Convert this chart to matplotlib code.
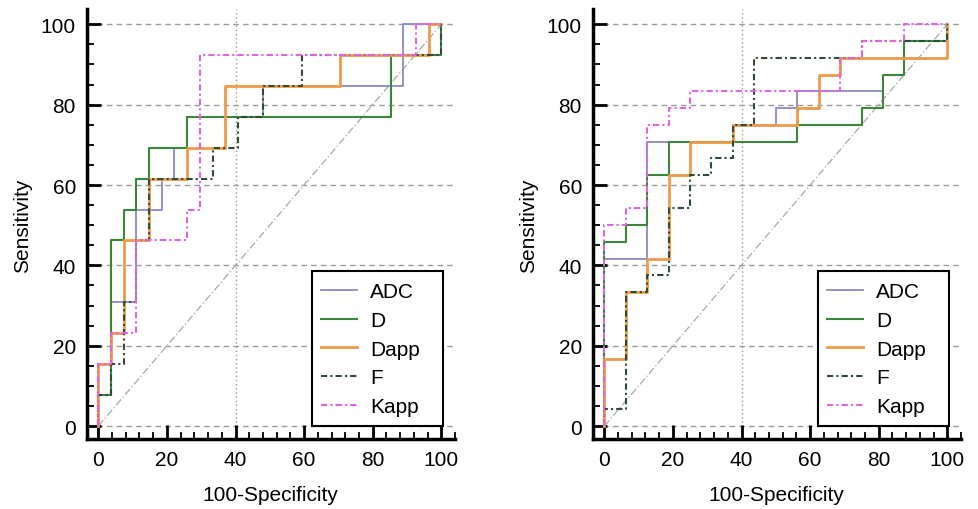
import matplotlib
matplotlib.use("Agg")
import matplotlib.pyplot as plt
from matplotlib.ticker import MultipleLocator
from matplotlib.patches import Rectangle

plt.rcParams['font.family'] = ['Liberation Sans', 'DejaVu Sans']

series_names = ["ADC", "D", "Dapp", "F", "Kapp"]

# Left panel ROC points (100-Specificity, Sensitivity)
adc_l_x = [0, 0, 3.7, 11.1, 18.5, 22.2, 25.9, 48.1, 88.9, 100]
adc_l_y = [0, 15.4, 30.8, 53.8, 61.5, 69.2, 76.9, 84.6, 100, 100]
d_l_x = [0, 0, 3.7, 7.4, 11.1, 14.8, 25.9, 85.2, 100]
d_l_y = [0, 7.7, 46.2, 53.8, 61.5, 69.2, 76.9, 92.3, 100]
dapp_l_x = [0, 0, 3.7, 7.4, 14.8, 25.9, 37.0, 70.4, 96.3, 100]
dapp_l_y = [0, 15.4, 23.1, 46.2, 61.5, 69.2, 84.6, 92.3, 100, 100]
f_l_x = [0, 0, 3.7, 7.4, 11.1, 14.8, 33.3, 40.7, 48.1, 59.3, 100]
f_l_y = [0, 7.7, 15.4, 30.8, 46.2, 61.5, 69.2, 76.9, 84.6, 92.3, 100]
kapp_l_x = [0, 0, 3.7, 11.1, 25.9, 29.6, 92.6, 100]
kapp_l_y = [0, 15.4, 23.1, 46.2, 53.8, 92.3, 100, 100]

# Right panel ROC points
adc_r_x = [0, 0, 12.5, 37.5, 50, 56.25, 81.25, 87.5, 100]
adc_r_y = [0, 41.7, 70.8, 75, 79.2, 83.3, 87.5, 95.8, 100]
d_r_x = [0, 0, 6.25, 12.5, 18.75, 56.25, 75, 81.25, 87.5, 100]
d_r_y = [0, 45.8, 50, 62.5, 70.8, 75, 79.2, 87.5, 95.8, 100]
dapp_r_x = [0, 0, 6.25, 12.5, 18.75, 25, 37.5, 56.25, 62.5, 68.75, 100]
dapp_r_y = [0, 16.7, 33.3, 41.7, 62.5, 70.8, 75, 79.2, 87.5, 91.7, 100]
f_r_x = [0, 0, 6.25, 12.5, 18.75, 25, 31.25, 37.5, 43.75, 75, 100]
f_r_y = [0, 4.2, 33.3, 37.5, 54.2, 62.5, 66.7, 75, 91.7, 95.8, 100]
kapp_r_x = [0, 0, 6.25, 12.5, 18.75, 25, 68.75, 75, 87.5, 100]
kapp_r_y = [0, 50, 54.2, 75, 79.2, 83.3, 91.7, 95.8, 100, 100]

ticks = [0, 20, 40, 60, 80, 100]

styles = {
    "ADC": dict(color="#8a8ac4", lw=1.3, ls="-"),
    "D": dict(color="#3a863a", lw=1.5, ls="-"),
    "Dapp": dict(color="#ef9a48", lw=2.0, ls="-"),
    "F": dict(color="#2f4a35", lw=1.5, ls=(0, (3, 1.5, 1, 1.5))),
    "Kapp": dict(color="#e064e0", lw=1.5, ls=(0, (3, 1.5, 1, 1.5))),
}

fig = plt.figure(figsize=(9.79, 5.10), dpi=100)
ax1 = fig.add_axes([87 / 979, 70 / 510, 368 / 979, 430 / 510])
ax2 = fig.add_axes([593 / 979, 70 / 510, 368 / 979, 430 / 510])

panels = [
    (ax1, [(adc_l_x, adc_l_y), (d_l_x, d_l_y), (dapp_l_x, dapp_l_y), (f_l_x, f_l_y), (kapp_l_x, kapp_l_y)]),
    (ax2, [(adc_r_x, adc_r_y), (d_r_x, d_r_y), (dapp_r_x, dapp_r_y), (f_r_x, f_r_y), (kapp_r_x, kapp_r_y)]),
]

for ax, data in panels:
    ax.set_xlim(-3.3, 104.0)
    ax.set_ylim(-3.2, 103.8)
    for t in ticks:
        ax.axhline(t, color="#9a9a9a", lw=1.0, ls=(0, (4, 3)), zorder=0)
    ax.axvline(40, color="#9a9a9a", lw=1.0, ls=(0, (1, 2)), zorder=0)
    ax.plot([0, 100], [0, 100], color="#a8a8a8", lw=0.9, ls=(0, (6, 2, 1, 2)), zorder=1)
    for name, (xs, ys) in zip(series_names, data):
        ax.plot(xs, ys, drawstyle="steps-post", label=name, zorder=2, **styles[name])
    for s in ["top", "right"]:
        ax.spines[s].set_visible(False)
    for s in ["left", "bottom"]:
        ax.spines[s].set_linewidth(2.5)
    ax.set_xticks(ticks)
    ax.set_yticks(ticks)
    ax.xaxis.set_minor_locator(MultipleLocator(4))
    ax.yaxis.set_minor_locator(MultipleLocator(5))
    ax.tick_params(which="major", direction="in", length=10, width=2, labelsize=15, pad=8)
    ax.tick_params(which="minor", direction="in", length=5, width=1.3)
    ax.set_xlabel("100-Specificity", fontsize=15)
    ax.set_ylabel("Sensitivity", fontsize=15)
    ax.xaxis.set_label_coords(0.497, -0.107)
    ax.yaxis.set_label_coords(-0.150, 0.498)
    # legend frame
    frame = Rectangle((0.6106, 0.0309), 0.9666 - 0.6106, 0.3914 - 0.0309,
                      transform=ax.transAxes, facecolor="white", edgecolor="black",
                      lw=1.5, zorder=4)
    ax.add_patch(frame)
    leg = ax.legend(loc="upper left", bbox_to_anchor=(0.6125, 0.3844),
                    borderaxespad=0, fontsize=15, handlelength=1.76, handletextpad=0.61,
                    labelspacing=0.47, borderpad=0.4, frameon=False)
    leg.set_zorder(5)

fig.savefig("out.png", dpi=100)
